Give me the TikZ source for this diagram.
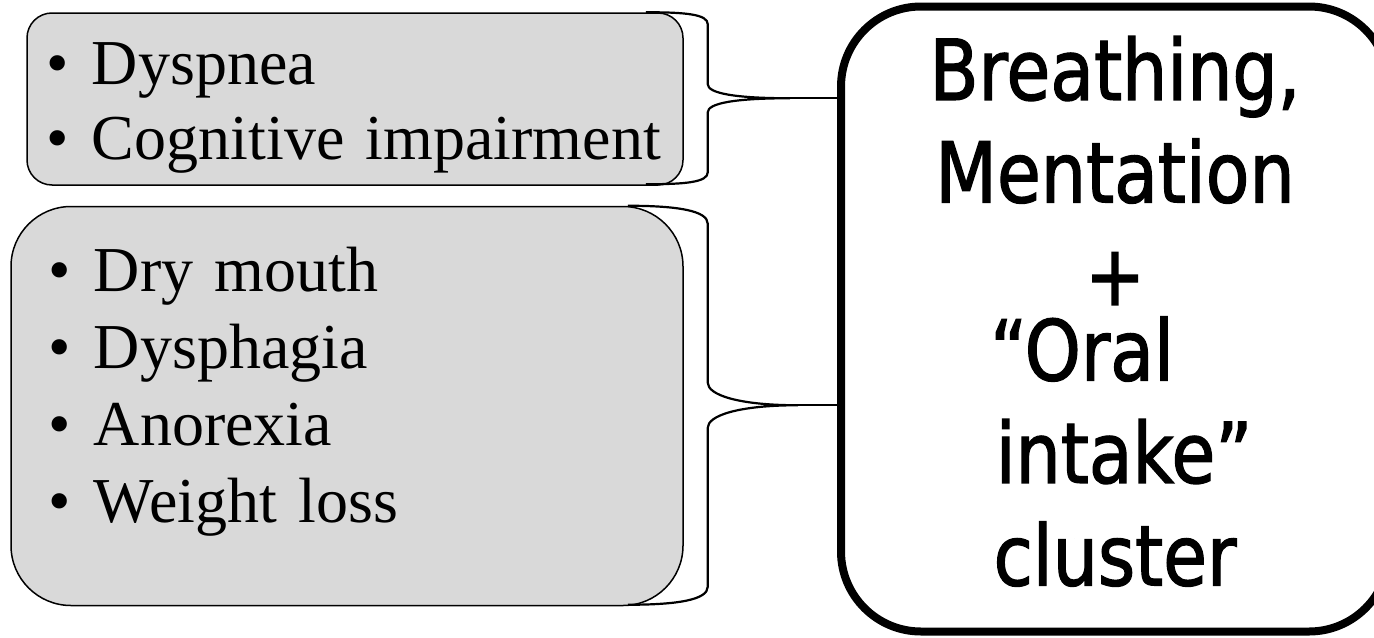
\documentclass[tikz,border=0pt]{standalone}
\usepackage{fontspec}
\setmainfont{Liberation Serif}
\newfontfamily\clusterfont{DejaVu Sans}[FakeStretch=0.85,FakeBold=1.5]
\usetikzlibrary{positioning}
\definecolor{boxgray}{RGB}{217,217,217}
\newcommand{\bull}{\makebox[23pt][l]{•}}
\tikzstyle{symptoms}=[
	rectangle,
	draw=black,
	line width=0.75pt,
	fill=boxgray,
	align=left,
	inner ysep=0pt
]
\tikzstyle{clusterbox}=[
	rectangle,
	draw=black,
	line width=4pt,
	rounded corners=40pt,
	align=center,
	inner sep=0pt,
	font=\clusterfont\fontsize{42}{51.25}\selectfont
]
\tikzstyle{brace}=[
	line width=1.1pt,
	line join=round
]

\begin{document}
\begin{tikzpicture}[x=0.5pt,y=-0.5pt]
\useasboundingbox (0,0) rectangle (1374,637);
\node [symptoms, rounded corners=12.5pt, minimum width=328pt, minimum height=86pt,
	text width=309pt, inner xsep=9.5pt, text depth=35.2pt,
	font=\fontsize{32}{37.5}\selectfont] (symTop) at (355,99)
	{\bull Dyspnea\\ \bull Cognitive impairment};
\node [symptoms, rounded corners=30pt, minimum width=336pt, minimum height=199.5pt,
	text width=299pt, inner xsep=18.5pt, text depth=136.4pt,
	font=\fontsize{32}{38.5}\selectfont]
	(symBot) [below left=10pt and 0pt of symTop.south east]
	{\bull Dry mouth\\ \bull Dysphagia\\ \bull Anorexia\\ \bull Weight loss};
\node [clusterbox, minimum width=274pt, minimum height=312.5pt,
	text width=260pt, text depth=251pt] (cluster) at (1115,319)
	{Breathing,\\ Mentation\\ +\\[-13.5pt] “Oral\hspace*{33pt}\mbox{}\\ \hspace*{9pt}intake”\\ cluster};
% braces
\draw [brace] ([xshift=-19pt]symTop.north east)
	.. controls +(40,0) and +(0,-10) .. ++(62,12)
	-- ++(0,60)
	.. controls +(0,9) and +(-55,0) .. ++(82,14) coordinate (tipTop)
	.. controls +(-55,0) and +(0,-9) .. ++(-82,14)
	-- ++(0,60)
	.. controls +(0,10) and +(40,0) .. ++(-62,12);
\draw [brace] ([xshift=-28pt]symBot.north east)
	.. controls +(50,0) and +(0,-13) .. ++(80,18)
	-- ++(0,159)
	.. controls +(0,12) and +(-60,0) .. ++(90,22.5) coordinate (tipBot)
	.. controls +(-60,0) and +(0,-12) .. ++(-90,22.5)
	-- ++(0,159)
	.. controls +(0,13) and +(50,0) .. ++(-80,18);
\draw [brace] (tipTop) -- (tipTop -| cluster.west);
\draw [brace] (tipBot) -- (tipBot -| cluster.west);
\end{tikzpicture}
\end{document}
